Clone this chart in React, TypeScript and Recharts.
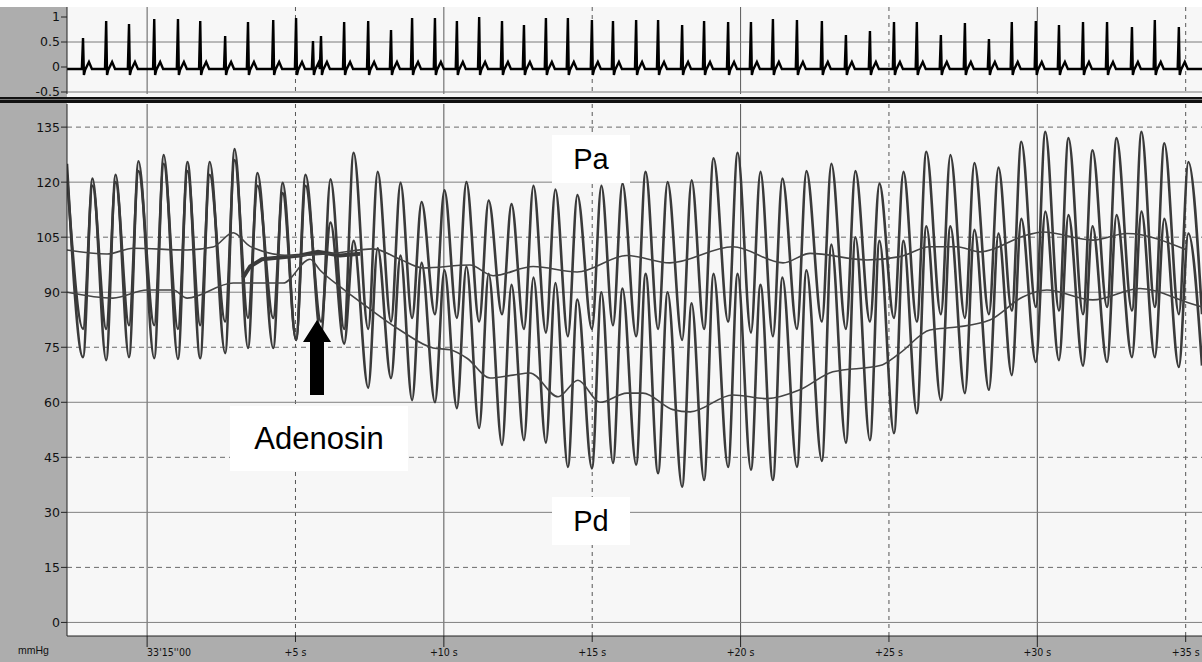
import { LineChart, Line, XAxis, YAxis, CartesianGrid } from 'recharts'

// ── Data read off the tracing ─────────────────────────────────────────────────
// time in s relative to 33'15''00, pressure in mmHg, ECG in mV

const T0 = -2.7
const T1 = 35.55

// R-wave times (one per beat)
const beatTimes = [
  -2.16, -1.38, -0.61, 0.24, 1.04, 1.79, 2.63, 3.4, 4.25, 5.02, 5.86, 6.64, 7.45, 8.22, 8.93, 9.7,
  10.44, 11.19, 11.96, 12.7, 13.44, 14.18, 14.99, 15.7, 16.48, 17.22, 18.03, 18.77, 19.58, 20.35,
  21.09, 21.9, 22.74, 23.55, 24.36, 25.17, 25.94, 26.75, 27.56, 28.37, 29.14, 29.95, 30.73, 31.54,
  32.35, 33.19, 33.96, 34.77,
]

const ecgPeaks = [
  0.58, 0.92, 0.86, 0.96, 0.96, 0.92, 0.62, 0.9, 0.94, 0.98, 0.62, 0.9, 0.92, 0.74, 0.98, 0.98,
  0.92, 1.0, 0.92, 0.84, 0.98, 0.98, 0.94, 0.92, 0.94, 0.94, 0.84, 0.92, 0.9, 0.9, 0.96, 0.94, 0.92,
  0.64, 0.72, 0.9, 0.9, 0.64, 0.88, 0.56, 0.9, 0.92, 0.84, 0.9, 0.9, 0.8, 0.94, 0.8,
]
const ectopicTimes = [5.59]
const ectopicPeaks = [0.52]

// Aortic pressure (Pa): systolic peak / diastolic trough per beat
const paSys = [
  121, 122, 125.7, 127.4, 125.5, 125.5, 129, 122.5, 119.8, 122, 120.8, 128, 122.8, 119.8, 114.6,
  117.8, 120, 115, 114, 119, 118, 116.5, 119, 119.6, 122.8, 120, 120.5, 126.5, 128, 122.8, 121, 123,
  125, 123, 119.6, 122.8, 128.3, 127.4, 125.2, 124, 131, 133.7, 132, 128.7, 132, 133.7, 130.6, 125.5,
]
const paDia = [
  72.3, 71.5, 72.3, 72, 71.8, 72, 73.4, 74.8, 74.8, 77, 78, 80, 80, 82, 83, 84, 83, 82, 84, 80, 79,
  78, 80, 81, 78, 80, 77, 80, 82, 79, 78, 80, 82, 80, 82, 83, 82, 84, 83, 84, 85, 86, 85, 84, 86, 85,
  86, 84,
]

// Distal pressure (Pd)
const pdSys = [
  119, 120, 123, 125, 123, 122, 126, 119, 117, 119, 109, 104, 102, 100, 98, 96, 97, 95, 92, 94, 92.5,
  88, 90, 91, 95, 90, 87, 95, 95, 92, 94, 96, 103, 105, 104, 104, 108, 108, 107, 106, 110, 112, 111,
  108, 111, 112, 110, 106,
]
const pdDia = [
  80, 80, 81, 81, 80, 81, 82, 83, 83, 77, 82, 76, 64, 66.6, 60.6, 60, 58.4, 53, 48.4, 49.7, 49, 42.4,
  42, 43.5, 43, 40.7, 37, 38.8, 42.4, 41.6, 38.8, 42.4, 44, 49, 49.7, 51.6, 57, 60.6, 62.5, 63.4,
  67.4, 71, 71.5, 70, 71, 72.3, 72.3, 69.6,
]

// Running means
const paMeanT = [
  -2.7, -1.35, -0.47, 1.35, 2.22, 2.9, 3.47, 4.82, 6.17, 7.61, 8.52, 9.3, 10.88, 11.66, 13.01, 14.49,
  16.17, 17.62, 19.74, 21.43, 22.34, 24.26, 25.37, 26.38, 27.29, 28.07, 29.65, 30.19, 31.87, 33.02,
  35.04,
]
const paMeanV = [
  101.5, 100.4, 102, 101.5, 102.3, 106.2, 102.5, 100, 100.5, 101.8, 99, 96.6, 97.4, 94.5, 97, 95.5,
  100, 98, 102.4, 98, 100.6, 98.8, 99.7, 102.4, 102.4, 101, 105.6, 106.4, 104.2, 106, 101.5,
]
const pdMeanT = [
  -2.7, -1.15, 0, 0.88, 1.35, 2.9, 4.58, 5.49, 5.83, 6.5, 7.41, 8.52, 9.64, 10.21, 10.78, 11.56,
  12.33, 12.9, 13.85, 14.52, 15.26, 16.17, 16.71, 17.72, 18.3, 19.74, 20.89, 22.0, 23.11, 24.7,
  25.37, 26.38, 27.29, 28.4, 29.51, 30.32, 31.87, 33.46, 35.14, 35.55,
]
const pdMeanV = [
  90, 88.4, 90.6, 90.6, 88.4, 92.5, 92.5, 99, 96, 91.5, 86, 79.7, 74.8, 74.3, 72, 66.6, 67.4, 68,
  61.5, 66, 60, 62.5, 62.5, 58, 57.4, 62, 61, 63.4, 68.3, 70, 73.4, 79.7, 80.5, 82.4, 88.7, 90.6,
  87.9, 91, 87, 86,
]

// flush artefact around the injection
const flushT = [3.23, 3.47, 3.87, 5.15, 5.76, 6.5, 7.18]
const flushV = [94, 97, 99, 100, 101, 100, 100.5]

const timeTicks = [0, 5, 10, 15, 20, 25, 30, 35]
const pressureTicks = [0, 15, 30, 45, 60, 75, 90, 105, 120, 135]
const ecgTicks = [-0.5, 0, 0.5, 1]

// ── Row builders ──────────────────────────────────────────────────────────────

// QRS-T complex outline around each R wave (null = R amplitude)
const qrsShape: [number, number | null][] = [
  [-0.04, -0.04],
  [0, null],
  [0.03, -0.16],
  [0.07, -0.06],
  [0.2, 0.1],
  [0.3, -0.04],
]

const ecgBeats = [
  ...beatTimes.map((t, i) => ({ t, r: ecgPeaks[i] })),
  ...ectopicTimes.map((t, i) => ({ t, r: ectopicPeaks[i] })),
].sort((a, b) => a.t - b.t)

const ecgRows = [
  { t: T0, v: -0.04 },
  ...ecgBeats.flatMap((b) => qrsShape.map(([dt, v]) => ({ t: +(b.t + dt).toFixed(3), v: v ?? b.r }))),
  { t: T1, v: -0.04 },
].sort((a, b) => a.t - b.t)

function pressureRows(dia: number[], sys: number[], start: number, end: number) {
  return [
    { t: T0, v: start },
    ...beatTimes.flatMap((t, i) => [
      { t, v: dia[i] },
      { t: +(t + 0.32).toFixed(3), v: sys[i] },
    ]),
    { t: T1, v: end },
  ]
}

const zip = (ts: number[], vs: number[]) => ts.map((t, i) => ({ t, v: vs[i] }))

const paRows = pressureRows(paDia, paSys, 125, 84)
const pdRows = pressureRows(pdDia, pdSys, 122, 70)
const paMeanRows = zip(paMeanT, paMeanV)
const pdMeanRows = zip(pdMeanT, pdMeanV)
const flushRows = zip(flushT, flushV)

// ── Styling ───────────────────────────────────────────────────────────────────

const W = 1202
const H = 662
const PLOT_LEFT = 67
const STRIP = '#adadad'
const TRACE = '#3a3a3a'
const tickFont = { fontSize: 12.5, fill: '#111', fontFamily: 'DejaVu Sans, Arial, sans-serif' }

const solidV = timeTicks.filter((t) => t % 10 === 0)
const dashedV = timeTicks.filter((t) => t % 10 !== 0)

function TimeTick(props: any) {
  const { x, y, payload } = props
  const v = payload.value as number
  const major = v % 10 === 0
  const label = v === 0 ? "33'15''00" : `+${v} s`
  return (
    <g>
      <line x1={x} x2={x} y1={y} y2={y + (major ? 11 : 6)} stroke="#222" />
      <text
        x={x}
        y={y + 20}
        textAnchor={v === 0 ? 'start' : 'middle'}
        fontSize={10.5}
        fill="#111"
        fontFamily="'Liberation Sans Narrow', 'DejaVu Sans Condensed', Arial, sans-serif"
      >
        {label}
      </text>
    </g>
  )
}

function Box({ left, top, width, height, text, size }: any) {
  return (
    <div
      style={{
        position: 'absolute',
        left,
        top,
        width,
        height,
        background: '#fff',
        display: 'flex',
        alignItems: 'center',
        justifyContent: 'center',
        fontFamily: 'Arial, Liberation Sans, sans-serif',
        fontSize: size,
        color: '#000',
      }}
    >
      {text}
    </div>
  )
}

export default function App() {
  return (
    <div style={{ position: 'absolute', left: 0, top: 0, width: W, height: H, background: '#fff', overflow: 'hidden' }}>
      {/* gray frame strips and plot background */}
      <div style={{ position: 'absolute', left: 0, top: 7, width: PLOT_LEFT, height: H - 7, background: STRIP }} />
      <div style={{ position: 'absolute', left: 0, top: 636, width: W, height: H - 636, background: STRIP }} />
      <div style={{ position: 'absolute', left: PLOT_LEFT, top: 7, width: W - PLOT_LEFT, height: 629, background: '#f7f7f7' }} />

      {/* ECG panel */}
      <div style={{ position: 'absolute', left: 0, top: 0 }}>
        <LineChart width={W} height={100} margin={{ top: 7, right: 0, left: 0, bottom: 6 }}>
          <CartesianGrid horizontal={false} verticalValues={solidV} stroke="#5a5a5a" />
          <CartesianGrid horizontal={false} verticalValues={dashedV} stroke="#5a5a5a" strokeDasharray="4 4" />
          <CartesianGrid vertical={false} horizontalValues={[0.5, -0.5]} stroke="#7a7a7a" />
          <XAxis type="number" dataKey="t" domain={[T0, T1]} allowDataOverflow hide ticks={timeTicks} height={0} />
          <YAxis
            type="number"
            domain={[-0.54, 1.2]}
            allowDataOverflow
            ticks={ecgTicks}
            interval={0}
            width={PLOT_LEFT}
            tickSize={6}
            tickMargin={1}
            tick={tickFont}
            tickFormatter={(v) => String(v)}
            axisLine={{ stroke: '#222' }}
            tickLine={{ stroke: '#222' }}
          />
          <Line data={ecgRows} dataKey="v" type="linear" stroke="#000" strokeWidth={2.4} dot={false} isAnimationActive={false} />
        </LineChart>
      </div>

      {/* double separator */}
      <div style={{ position: 'absolute', left: 0, top: 97, width: W, height: 6, background: '#111' }} />
      <div style={{ position: 'absolute', left: 0, top: 99, width: W, height: 1, background: '#777' }} />

      {/* pressure panel */}
      <div style={{ position: 'absolute', left: 0, top: 0 }}>
        <LineChart width={W} height={H} margin={{ top: 104, right: 0, left: 0, bottom: 0 }}>
          <CartesianGrid horizontal={false} verticalValues={solidV} stroke="#555" />
          <CartesianGrid horizontal={false} verticalValues={dashedV} stroke="#555" strokeDasharray="4 4" />
          <CartesianGrid vertical={false} horizontalValues={[0, 30, 60, 90, 120]} stroke="#808080" />
          <CartesianGrid vertical={false} horizontalValues={[15, 45, 75, 105, 135]} stroke="#6a6a6a" strokeDasharray="5 4" />
          <XAxis
            type="number"
            dataKey="t"
            domain={[T0, T1]}
            allowDataOverflow
            ticks={timeTicks}
            interval={0}
            height={26}
            tickSize={0}
            tickMargin={0}
            tickLine={false}
            tick={<TimeTick />}
            axisLine={{ stroke: '#222' }}
          />
          <YAxis
            type="number"
            domain={[-3.7, 141.3]}
            allowDataOverflow
            ticks={pressureTicks}
            interval={0}
            width={PLOT_LEFT}
            tickSize={6}
            tickMargin={1}
            tick={tickFont}
            axisLine={{ stroke: '#222' }}
            tickLine={{ stroke: '#222' }}
          />
          <Line data={flushRows} dataKey="v" type="linear" stroke={TRACE} strokeWidth={4} dot={false} isAnimationActive={false} />
          <Line data={pdRows} dataKey="v" type="monotone" stroke={TRACE} strokeWidth={2.6} dot={false} isAnimationActive={false} />
          <Line data={paRows} dataKey="v" type="monotone" stroke={TRACE} strokeWidth={2.6} dot={false} isAnimationActive={false} />
          <Line data={paMeanRows} dataKey="v" type="monotone" stroke="#444" strokeWidth={1.6} dot={false} isAnimationActive={false} />
          <Line data={pdMeanRows} dataKey="v" type="monotone" stroke="#444" strokeWidth={1.6} dot={false} isAnimationActive={false} />
        </LineChart>
      </div>

      {/* unit label */}
      <div style={{ position: 'absolute', left: 18, top: 644, fontSize: 10.5, fontFamily: 'Arial, sans-serif', color: '#111' }}>
        mmHg
      </div>

      {/* annotations */}
      <Box left={552} top={135} width={78} height={48} text="Pa" size={29} />
      <Box left={552} top={497} width={78} height={48} text="Pd" size={29} />
      <Box left={230} top={406} width={178} height={65} text="Adenosin" size={31} />
      <svg style={{ position: 'absolute', left: 0, top: 0 }} width={W} height={H}>
        <polygon points="317,320 331,342 324,342 324,395 310,395 310,342 303,342" fill="#000" />
      </svg>
    </div>
  )
}
